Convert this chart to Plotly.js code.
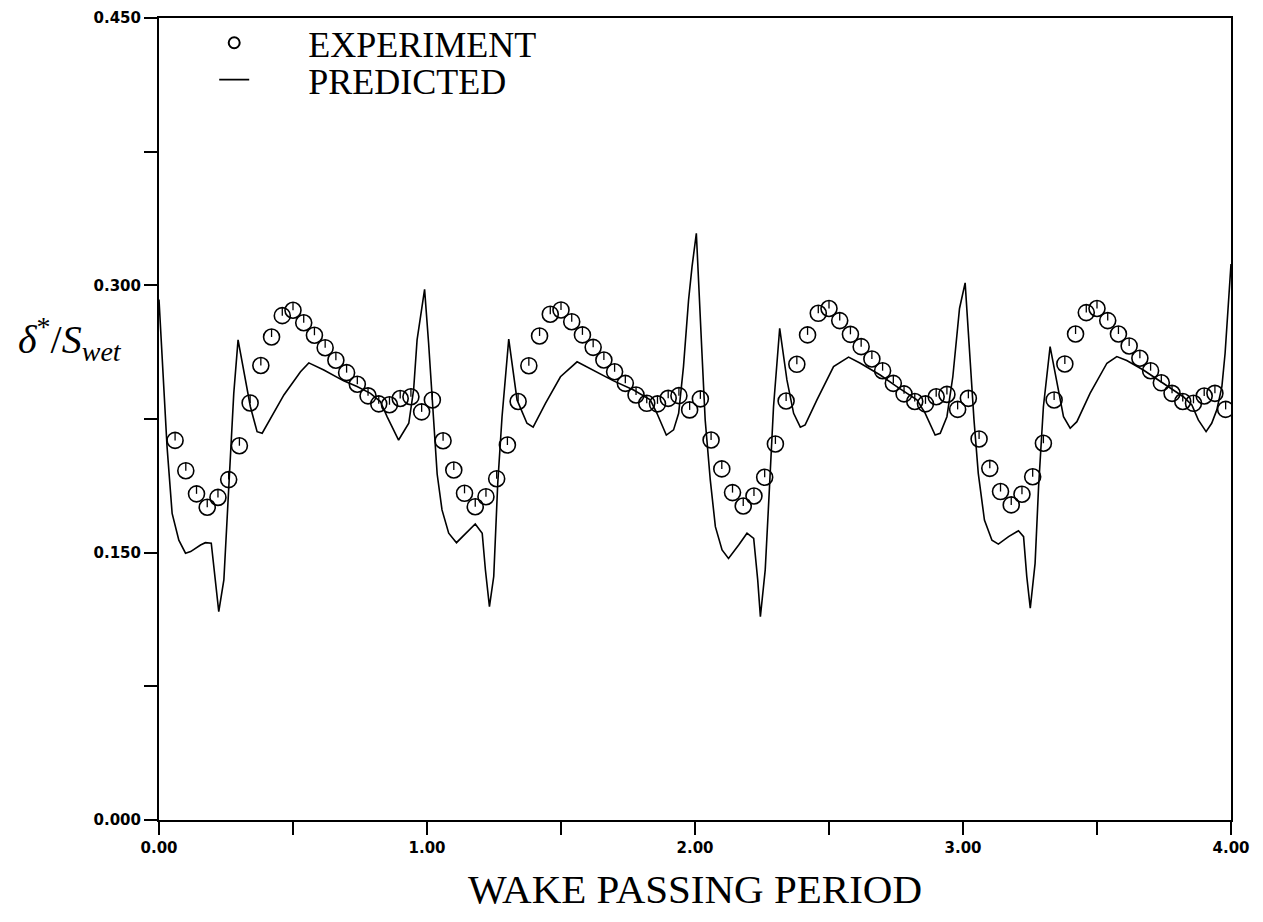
<!DOCTYPE html>
<html>
<head>
<meta charset="utf-8">
<script src="https://cdn.plot.ly/plotly-3.0.1.min.js"></script>
<style>
  html, body { margin: 0; padding: 0; background: #ffffff; }
  #chart { width: 1263px; height: 922px; }
</style>
</head>
<body>
<div id="chart"></div>
<script>
// ---- Experiment (circles) ----
const expX = [
  0.06, 0.10, 0.14, 0.18, 0.22, 0.26, 0.30, 0.34, 0.38, 0.42, 0.46, 0.50, 0.54, 0.58, 0.62, 0.66, 0.70, 0.74, 0.78, 0.82, 0.86, 0.90, 0.94, 0.98, 1.02,
  1.06, 1.10, 1.14, 1.18, 1.22, 1.26, 1.30, 1.34, 1.38, 1.42, 1.46, 1.50, 1.54, 1.58, 1.62, 1.66, 1.70, 1.74, 1.78, 1.82, 1.86, 1.90, 1.94, 1.98, 2.02,
  2.06, 2.10, 2.14, 2.18, 2.22, 2.26, 2.30, 2.34, 2.38, 2.42, 2.46, 2.50, 2.54, 2.58, 2.62, 2.66, 2.70, 2.74, 2.78, 2.82, 2.86, 2.90, 2.94, 2.98, 3.02,
  3.06, 3.10, 3.14, 3.18, 3.22, 3.26, 3.30, 3.34, 3.38, 3.42, 3.46, 3.50, 3.54, 3.58, 3.62, 3.66, 3.70, 3.74, 3.78, 3.82, 3.86, 3.90, 3.94, 3.98
];
const expY = [
  0.2130, 0.1960, 0.1830, 0.1755, 0.1810, 0.1910, 0.2100, 0.2340, 0.2550, 0.2710, 0.2830, 0.2860, 0.2790, 0.2720, 0.2650, 0.2580, 0.2510, 0.2445, 0.2380, 0.2335, 0.2330, 0.2365, 0.2375, 0.2290, 0.2357,
  0.2128, 0.1964, 0.1833, 0.1758, 0.1814, 0.1915, 0.2104, 0.2348, 0.2549, 0.2716, 0.2838, 0.2862, 0.2796, 0.2722, 0.2652, 0.2581, 0.2515, 0.2450, 0.2385, 0.2338, 0.2335, 0.2366, 0.2381, 0.2301, 0.2363,
  0.2132, 0.1970, 0.1837, 0.1762, 0.1818, 0.1923, 0.2110, 0.2351, 0.2557, 0.2722, 0.2843, 0.2870, 0.2802, 0.2725, 0.2656, 0.2587, 0.2521, 0.2450, 0.2391, 0.2348, 0.2335, 0.2375, 0.2388, 0.2304, 0.2366,
  0.2138, 0.1973, 0.1843, 0.1768, 0.1828, 0.1926, 0.2114, 0.2357, 0.2559, 0.2727, 0.2847, 0.2870, 0.2802, 0.2727, 0.2660, 0.2591, 0.2521, 0.2453, 0.2394, 0.2348, 0.2338, 0.2379, 0.2394, 0.2304
];

// ---- Predicted (line) ----
const predX = [
  0.000, 0.030, 0.049, 0.074, 0.099, 0.118, 0.155, 0.173, 0.195, 0.205, 0.223, 0.242, 0.257, 0.267, 0.279, 0.295, 0.341, 0.366, 0.385, 0.466, 0.528, 0.559, 0.615, 0.689, 0.739, 0.789, 0.826, 0.851, 0.894, 0.932, 0.950, 0.963, 0.991,
  1.006, 1.021, 1.038, 1.056, 1.081, 1.110, 1.150, 1.180, 1.206, 1.218, 1.233, 1.249, 1.264, 1.280, 1.305, 1.336, 1.373, 1.396, 1.442, 1.498, 1.560, 1.634, 1.696, 1.771, 1.833, 1.858, 1.893, 1.920, 1.939, 1.957, 1.976, 1.989, 2.005,
  2.026, 2.038, 2.057, 2.076, 2.101, 2.125, 2.163, 2.194, 2.219, 2.234, 2.244, 2.262, 2.278, 2.293, 2.316, 2.343, 2.368, 2.393, 2.411, 2.455, 2.517, 2.573, 2.617, 2.691, 2.753, 2.828, 2.859, 2.896, 2.915, 2.940, 2.962, 2.987, 3.008,
  3.024, 3.041, 3.057, 3.080, 3.108, 3.132, 3.170, 3.207, 3.226, 3.238, 3.251, 3.269, 3.282, 3.300, 3.325, 3.350, 3.375, 3.400, 3.425, 3.474, 3.537, 3.574, 3.611, 3.673, 3.748, 3.822, 3.854, 3.878, 3.907, 3.928, 3.947, 3.966, 3.978, 3.990, 4.000
];
const predY = [
  0.2920, 0.2095, 0.1720, 0.1570, 0.1497, 0.1506, 0.1543, 0.1556, 0.1553, 0.1422, 0.1169, 0.1347, 0.1796, 0.2060, 0.2394, 0.2694, 0.2319, 0.2179, 0.2170, 0.2385, 0.2515, 0.2565, 0.2525, 0.2464, 0.2432, 0.2394, 0.2348, 0.2263, 0.2132, 0.2226, 0.2413, 0.2694, 0.2977,
  0.2675, 0.2300, 0.1940, 0.1740, 0.1609, 0.1556, 0.1617, 0.1661, 0.1609, 0.1403, 0.1197, 0.1366, 0.1890, 0.2263, 0.2698, 0.2357, 0.2226, 0.2204, 0.2338, 0.2487, 0.2571, 0.2515, 0.2464, 0.2413, 0.2357, 0.2282, 0.2160, 0.2189, 0.2282, 0.2544, 0.2918, 0.3105, 0.3292,
  0.2619, 0.2245, 0.1908, 0.1646, 0.1515, 0.1468, 0.1543, 0.1609, 0.1580, 0.1347, 0.1141, 0.1403, 0.1869, 0.2319, 0.2759, 0.2469, 0.2282, 0.2204, 0.2217, 0.2357, 0.2544, 0.2597, 0.2563, 0.2497, 0.2432, 0.2357, 0.2282, 0.2160, 0.2170, 0.2263, 0.2487, 0.2870, 0.3014,
  0.2619, 0.2245, 0.1945, 0.1683, 0.1570, 0.1548, 0.1590, 0.1623, 0.1590, 0.1366, 0.1188, 0.1440, 0.1869, 0.2319, 0.2656, 0.2469, 0.2263, 0.2198, 0.2235, 0.2394, 0.2563, 0.2600, 0.2578, 0.2525, 0.2450, 0.2375, 0.2329, 0.2245, 0.2179, 0.2226, 0.2301, 0.2432, 0.2619, 0.2900, 0.3120
];

// ---- Axis ticks / labels ----
const xTickVals = [0, 1, 2, 3, 4];
const xTickText = ["0.00", "1.00", "2.00", "3.00", "4.00"];
const yTickVals = [0, 0.15, 0.30, 0.45];
const yTickText = ["0.000", "0.150", "0.300", "0.450"];
const legendNames = ["EXPERIMENT", "PREDICTED"];
const xTitle = "WAKE PASSING PERIOD";
const yTitle = "<i>δ</i><sup>*</sup>/<i>S</i><sub><i>wet</i></sub>";

const pad = "\u00a0\u00a0\u00a0\u00a0\u00a0\u00a0";
const serif = "Liberation Serif, Times New Roman, serif";
const tickFont = { family: "DejaVu Sans, Verdana, sans-serif", size: 15, color: "#000", weight: "bold" };

const traces = [
  {
    x: predX, y: predY, type: "scatter", mode: "lines",
    line: { color: "#000", width: 1.6 },
    showlegend: false, hoverinfo: "skip"
  },
  {
    x: expX, y: expY, type: "scatter", mode: "markers",
    marker: { symbol: "circle-open", size: 16, color: "#000", line: { color: "#000", width: 1.6 } },
    error_y: { type: "constant", symmetric: false, value: 0.0045, valueminus: 0, width: 0, thickness: 1.3, color: "#000" },
    showlegend: false, hoverinfo: "skip"
  },
  {
    x: [null], y: [null], type: "scatter", mode: "markers", name: pad + legendNames[0],
    marker: { symbol: "circle-open", size: 11, color: "#000", line: { color: "#000", width: 2 } },
    legend: "legend", showlegend: true
  },
  {
    x: [null], y: [null], type: "scatter", mode: "lines", name: pad + legendNames[1],
    line: { color: "#000", width: 1.6 },
    legend: "legend2", showlegend: true
  }
];

const axisCommon = {
  showline: true, mirror: true, linecolor: "#000", linewidth: 2,
  showgrid: false, zeroline: false,
  ticks: "outside", ticklen: 13, tickwidth: 2, tickcolor: "#000",
  tickfont: tickFont
};

const layout = {
  width: 1263, height: 922,
  margin: { l: 158.5, r: 32, t: 18, b: 102 },
  paper_bgcolor: "#fff", plot_bgcolor: "#fff",
  xaxis: Object.assign({}, axisCommon, {
    range: [0, 4], tickmode: "array", tickvals: xTickVals, ticktext: xTickText,
    minor: { dtick: 0.5, ticks: "outside", ticklen: 13, tickwidth: 2, tickcolor: "#000", showgrid: false },
    title: { text: xTitle, font: { family: serif, size: 41, color: "#000" }, standoff: 18 }
  }),
  yaxis: Object.assign({}, axisCommon, {
    range: [0, 0.45], tickmode: "array", tickvals: yTickVals, ticktext: yTickText,
    minor: { dtick: 0.075, ticks: "outside", ticklen: 13, tickwidth: 2, tickcolor: "#000", showgrid: false },
    title: { text: "" }
  }),
  legend: {
    x: 0.0515, xanchor: "left", y: 0.969, yanchor: "middle",
    bgcolor: "rgba(0,0,0,0)", borderwidth: 0,
    font: { family: serif, size: 36, color: "#000" }
  },
  legend2: {
    x: 0.0515, xanchor: "left", y: 0.923, yanchor: "middle",
    bgcolor: "rgba(0,0,0,0)", borderwidth: 0,
    font: { family: serif, size: 36, color: "#000" }
  },
  annotations: [
    {
      text: yTitle, xref: "paper", yref: "paper", x: -0.083, y: 0.6,
      xanchor: "center", yanchor: "middle", showarrow: false,
      font: { family: serif, size: 40, color: "#000" }
    }
  ],
  showlegend: true
};

Plotly.newPlot("chart", traces, layout, { staticPlot: true, displayModeBar: false });
</script>
</body>
</html>
